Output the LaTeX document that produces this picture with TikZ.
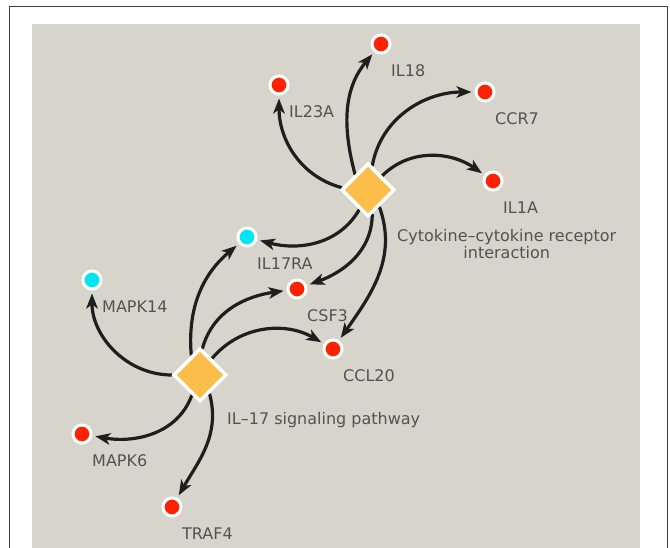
\documentclass[tikz,border=0pt]{standalone}
\usepackage{fontspec}
\setmainfont{DejaVu Sans}
\usetikzlibrary{arrows.meta,positioning,shapes.geometric,backgrounds}

\definecolor{panelgray}{RGB}{215,213,203}
\definecolor{genered}{RGB}{255,34,0}
\definecolor{genecyan}{RGB}{0,230,240}
\definecolor{pathorange}{RGB}{251,190,75}
\definecolor{labelgray}{RGB}{82,82,82}
\definecolor{edgeblack}{RGB}{30,30,30}

\begin{document}
\begin{tikzpicture}[
    x=1pt, y=1pt,
    gene/.style={circle, draw=white, line width=3pt, fill=#1,
                 minimum size=18pt, inner sep=0pt},
    pathway/.style={diamond, draw=white, line width=3.5pt, fill=pathorange,
                    minimum width=53pt, minimum height=53pt, inner sep=0pt},
    txt/.style={font=\fontsize{16}{17.5}\selectfont, text=labelgray, inner sep=0pt},
    lbl/.style={txt, text depth=0pt},
    arrow/.style={-{Stealth[length=15pt, width=11.5pt, inset=4pt]},
                  line width=3.2pt, edgeblack, shorten >=3pt},
]

% Canvas
\useasboundingbox (0,0) rectangle (670,548);
\draw[line width=1.5pt, black!75] (9.5,0) |- (667.5,541.5) -- (667.5,0);
\begin{scope}[on background layer]
  \fill[panelgray] (32,0) rectangle (640,524);
\end{scope}

% Pathways
\node[pathway] (cyto) at (368,358) {};
\node[pathway] (il17) at (200,173) {};

% Genes
\node[gene=genered]  (il18)   at (381,504) {};
\node[gene=genered]  (il23a)  at (279,463) {};
\node[gene=genered]  (ccr7)   at (485,456) {};
\node[gene=genered]  (il1a)   at (493,367) {};
\node[gene=genecyan] (il17ra) at (247,311) {};
\node[gene=genecyan] (mapk14) at (92,268)  {};
\node[gene=genered]  (csf3)   at (297,259) {};
\node[gene=genered]  (ccl20)  at (333,199) {};
\node[gene=genered]  (mapk6)  at (82,114)  {};
\node[gene=genered]  (traf4)  at (172,41)  {};

% Gene labels
\foreach \gene/\name in {il18/IL18, il23a/IL23A, ccr7/CCR7, il1a/IL1A,
    il17ra/IL17RA, mapk14/MAPK14, csf3/CSF3, ccl20/CCL20, mapk6/MAPK6, traf4/TRAF4}
    \node[lbl, right=10pt of \gene.center, yshift=-27pt] (\gene-lbl) {\name};

% Pathway labels
\node[txt, align=center, right=29pt of cyto.center, yshift=-54pt] (cyto-lbl)
    {Cytokine\textendash cytokine receptor\\interaction};
\node[lbl, right=27pt of il17.center, yshift=-43pt] (il17-lbl)
    {IL\textendash 17 signaling pathway};

\begin{scope}[on background layer]
% Arrows: cytokine pathway -> genes
\foreach \gene/\a/\o/\i in {il18/130/105/230, il23a/175/165/270, ccr7/80/80/180,
    il1a/45/45/145, il17ra/246/240/345, csf3/280/270/20, ccl20/304/290/55}
    \draw[arrow] (cyto.\a) to[out=\o, in=\i] (\gene);

% Arrows: IL-17 pathway -> genes
\foreach \gene/\a/\o/\i in {mapk14/180/180/270, il17ra/114/95/220, csf3/85/75/188,
    ccl20/54/50/150, mapk6/248/250/350, traf4/297/285/60}
    \draw[arrow] (il17.\a) to[out=\o, in=\i] (\gene);
\end{scope}

\end{tikzpicture}
\end{document}
